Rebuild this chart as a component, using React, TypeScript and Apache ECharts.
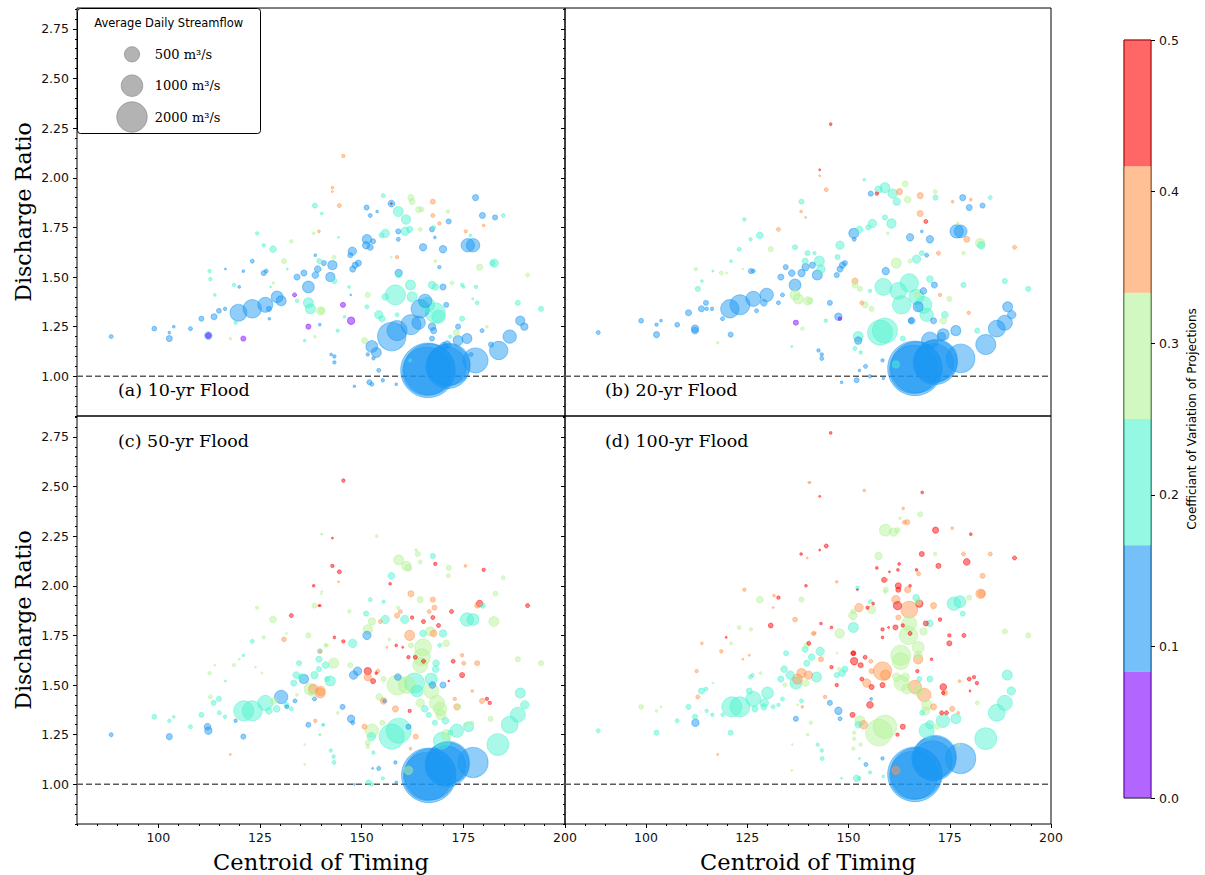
import React, { useEffect, useRef } from "react";
import * as echarts from "echarts";

type Pt = [number, number, number, number]; // [centroid of timing, discharge ratio, avg daily flow m3/s, coefficient of variation]

const panelA: Pt[] = [
  [88.4,1.20,35,.12],[99.0,1.24,47,.12],[102.7,1.19,78,.12],[102.7,1.22,15,.12],[103.8,1.25,15,.12],[107.9,1.24,35,.12],
  [110.6,1.29,54,.12],[112.3,1.205,116,.12],[112.3,1.205,60,.05],[113.7,1.30,78,.12],[114.9,1.33,47,.12],[116.4,1.34,24,.12],
  [117.7,1.19,15,.29],[120.9,1.19,54,.05],[119.0,1.27,24,.21],[119.7,1.32,600,.12],[123.1,1.34,726,.12],[126.3,1.36,486,.12],
  [127.2,1.34,54,.12],[129.2,1.40,294,.12],[130.2,1.38,216,.12],[127.3,1.29,15,.12],[133.5,1.41,35,.05],[134.1,1.38,24,.21],
  [136.9,1.45,294,.12],[134.1,1.50,78,.12],[135.8,1.52,78,.12],[138.6,1.51,96,.12],[139.2,1.54,96,.12],[140.7,1.57,54,.12],
  [139.6,1.58,54,.21],[136.9,1.37,216,.21],[137.4,1.34,216,.21],[139.9,1.33,150,.29],[138.5,1.20,15,.29],[136.9,1.25,54,.05],
  [136.0,1.18,15,.21],[139.7,1.26,15,.12],[138.5,1.86,54,.21],[139.5,1.73,15,.38],[138.2,1.72,15,.29],[124.3,1.72,24,.21],
  [125.9,1.66,24,.21],[128.2,1.64,96,.21],[130.9,1.58,54,.29],[132.7,1.68,24,.29],[123.1,1.58,35,.12],[120.9,1.53,15,.12],
  [116.5,1.54,9,.12],[112.6,1.53,24,.21],[112.8,1.49,24,.21],[113.9,1.41,15,.21],[118.6,1.46,24,.21],[119.9,1.45,15,.12],
  [125.9,1.52,54,.12],[126.5,1.53,35,.12],[128.3,1.47,15,.29],[131.7,1.54,9,.21],[127.6,1.45,6,.21],[138.6,1.61,15,.12],
  [145.5,2.11,24,.38],[142.8,1.95,15,.38],[142.8,1.93,9,.38],[144.5,1.86,35,.38],[140.2,1.82,15,.21],[155.3,1.91,35,.21],
  [157.3,1.87,96,.12],[157.3,1.87,9,.46],[151.2,1.85,54,.12],[152.1,1.81,35,.12],[153.8,1.83,15,.12],[159.0,1.83,216,.21],
  [160.9,1.79,188,.21],[162.1,1.90,78,.29],[162.4,1.88,78,.29],[164.0,1.84,78,.29],[164.7,1.84,54,.29],[167.5,1.88,54,.38],
  [167.5,1.81,35,.38],[169.1,1.77,24,.38],[171.2,1.83,24,.29],[171.4,1.78,54,.12],[178.0,1.90,78,.12],[179.7,1.81,78,.12],
  [180.0,1.76,15,.38],[182.8,1.80,54,.12],[184.8,1.81,35,.21],[175.6,1.73,24,.38],[176.7,1.71,15,.21],[176.1,1.66,384,.12],
  [177.4,1.66,384,.12],[155.8,1.72,150,.21],[154.9,1.71,54,.21],[151.3,1.69,188,.12],[151.1,1.66,116,.12],[152.1,1.65,78,.12],
  [152.8,1.68,54,.12],[159.0,1.73,54,.12],[160.7,1.73,150,.21],[161.8,1.74,78,.21],[159.0,1.69,35,.12],[164.4,1.74,35,.29],
  [167.3,1.74,54,.12],[167.7,1.75,35,.21],[168.0,1.70,15,.12],[165.1,1.65,116,.12],[170.0,1.64,116,.12],[169.1,1.55,24,.12],
  [168.1,1.58,15,.29],[158.7,1.60,24,.38],[157.3,1.60,9,.29],[159.1,1.52,116,.12],[159.1,1.51,54,.21],[147.7,1.63,150,.12],
  [147.2,1.61,54,.12],[149.2,1.57,78,.12],[148.4,1.56,78,.12],[147.8,1.54,78,.12],[142.3,1.50,188,.12],[142.8,1.56,188,.12],
  [143.3,1.48,54,.21],[143.2,1.60,35,.29],[144.3,1.70,9,.21],[146.9,1.45,15,.21],[147.3,1.41,6,.12],[140.2,1.33,78,.29],
  [145.4,1.36,54,.05],[147.4,1.28,116,.05],[145.8,1.30,15,.21],[144.1,1.23,24,.21],[142.5,1.11,15,.12],[143.3,1.10,24,.12],
  [143.3,1.07,24,.12],[148.2,0.95,15,.12],[151.9,0.97,54,.12],[152.5,0.96,35,.12],[155.2,0.98,24,.12],[158.5,0.96,15,.12],
  [154.2,1.03,35,.12],[152.9,1.09,24,.12],[151.5,1.11,24,.12],[152.5,1.15,294,.12],[153.6,1.12,216,.12],[150.7,1.18,78,.29],
  [157.4,1.20,1734,.12],[158.7,1.23,864,.12],[162.1,1.26,864,.12],[164.0,1.27,384,.12],[164.4,1.34,726,.12],[166.1,1.36,486,.21],
  [168.1,1.32,864,.21],[168.9,1.30,384,.21],[165.6,1.38,384,.12],[158.3,1.41,864,.21],[162.0,1.46,216,.21],[162.4,1.40,216,.21],
  [155.8,1.40,96,.21],[151.5,1.41,54,.29],[151.3,1.35,35,.21],[154.2,1.31,150,.21],[155.0,1.29,78,.21],[158.7,1.31,35,.21],
  [167.3,1.46,116,.21],[168.1,1.45,96,.21],[170.0,1.45,78,.12],[170.8,1.36,54,.12],[172.2,1.47,35,.29],[174.7,1.46,24,.21],
  [175.1,1.45,15,.21],[178.1,1.45,24,.21],[178.4,1.37,35,.21],[177.3,1.39,9,.21],[179.0,1.55,78,.29],[182.6,1.57,150,.21],
  [182.2,1.57,54,.21],[188.4,1.37,54,.21],[190.8,1.51,35,.29],[194.1,1.34,54,.21],[189.0,1.28,188,.12],[190.0,1.25,116,.12],
  [186.4,1.20,384,.12],[183.7,1.13,726,.12],[178.0,1.08,1350,.12],
  [166.3,1.03,6400,.12],[166.6,1.035,5600,.12],[166.0,1.025,5000,.12],[171.2,1.05,4200,.12],[171.5,1.06,3800,.12],[170.9,1.05,3300,.12],
  [173.7,1.18,216,.12],[175.9,1.19,216,.12],[173.3,1.22,78,.29],[173.7,1.25,54,.12],[170.2,1.15,150,.12],[171.0,1.16,116,.12],
  [167.3,1.25,116,.12],[167.7,1.23,78,.12],[167.3,1.19,54,.12],[174.7,1.29,54,.21],[179.6,1.23,35,.12],[180.8,1.25,15,.29],
  [181.8,1.16,54,.12],[176.9,1.11,35,.12],[161.9,1.08,15,.21],[171.8,1.20,24,.21],
];

const panelB: Pt[] = [
  [88.2,1.22,35,.12],[98.8,1.28,47,.12],[102.6,1.26,24,.12],[103.7,1.28,15,.12],[102.6,1.21,78,.12],[107.7,1.26,47,.12],
  [110.5,1.32,78,.12],[112.1,1.24,116,.12],[112.1,1.23,96,.12],[113.7,1.34,78,.12],[114.8,1.37,54,.12],[116.3,1.34,24,.12],
  [115.0,1.34,24,.12],[117.7,1.17,15,.29],[120.9,1.21,54,.12],[118.9,1.29,35,.12],[120.7,1.34,726,.12],[123.2,1.36,864,.12],
  [126.5,1.39,486,.12],[127.3,1.33,35,.12],[129.8,1.41,384,.12],[129.1,1.37,96,.12],[133.7,1.41,35,.12],[132.7,1.37,35,.12],
  [136.8,1.46,294,.12],[133.3,1.50,78,.12],[134.5,1.55,54,.12],[136.0,1.52,96,.12],[138.4,1.52,116,.12],[139.4,1.55,116,.12],
  [141.1,1.56,78,.12],[136.8,1.41,216,.29],[137.6,1.39,216,.29],[139.9,1.38,150,.29],[137.0,1.27,54,.05],[138.6,1.24,24,.29],
  [136.0,1.15,9,.21],[138.4,1.88,54,.21],[138.3,1.83,15,.38],[139.4,1.80,9,.38],[136.8,1.65,54,.21],[139.3,1.58,78,.21],
  [139.9,1.62,54,.21],[132.7,1.74,35,.38],[128.1,1.71,96,.21],[130.8,1.64,54,.29],[124.3,1.79,24,.21],[125.8,1.69,24,.21],
  [123.0,1.64,35,.21],[121.0,1.58,15,.21],[125.9,1.53,54,.12],[126.5,1.53,35,.12],[118.6,1.52,35,.29],[119.9,1.52,9,.29],
  [116.5,1.53,9,.21],[113.8,1.48,15,.21],[112.8,1.44,54,.21],[112.3,1.54,24,.29],[123.9,1.54,6,.29],
  [145.6,2.27,15,.46],[142.9,2.04,9,.46],[142.9,2.01,9,.38],[144.5,1.94,35,.38],[153.9,1.99,15,.21],[159.0,1.95,216,.21],
  [157.4,1.94,116,.21],[160.9,1.92,188,.21],[161.9,1.88,116,.21],[155.5,1.92,54,.12],[157.0,1.92,24,.46],[162.6,1.93,78,.38],
  [164.0,1.97,78,.29],[164.6,1.89,96,.29],[167.7,1.91,78,.38],[167.7,1.82,78,.38],[169.1,1.78,35,.46],[168.1,1.73,15,.12],
  [171.4,1.93,35,.29],[171.5,1.90,54,.21],[178.2,1.90,78,.12],[179.8,1.85,78,.12],[180.2,1.89,15,.38],[175.7,1.88,15,.38],
  [183.1,1.86,54,.12],[185.0,1.90,35,.21],[176.7,1.73,384,.12],[177.7,1.73,347,.12],[179.2,1.69,78,.38],[182.5,1.67,188,.29],
  [182.8,1.66,116,.21],[191.0,1.65,35,.38],[177.0,1.77,15,.29],[178.4,1.62,24,.29],[155.9,1.77,150,.21],[154.9,1.75,54,.21],
  [151.3,1.72,216,.12],[152.7,1.74,96,.21],[151.4,1.69,35,.12],[160.6,1.77,188,.21],[159.0,1.80,54,.21],[159.7,1.72,15,.29],
  [165.2,1.70,116,.12],[170.1,1.69,116,.12],[169.3,1.61,35,.12],[172.2,1.62,35,.38],[168.1,1.62,54,.21],[166.8,1.59,150,.21],
  [165.2,1.58,35,.29],[161.8,1.57,216,.29],[159.2,1.53,116,.12],[147.9,1.66,150,.21],[147.3,1.60,54,.21],[149.1,1.57,54,.12],
  [148.5,1.56,78,.12],[147.9,1.54,78,.12],[147.1,1.51,54,.12],[142.3,1.51,216,.12],[142.8,1.58,216,.21],[143.2,1.54,150,.21],
  [141.6,1.62,24,.21],[140.5,1.38,78,.29],[145.4,1.37,54,.12],[147.5,1.30,116,.12],[147.9,1.29,24,.05],[144.4,1.28,24,.21],
  [151.6,1.48,78,.38],[151.6,1.46,78,.29],[152.8,1.44,54,.29],[153.3,1.37,35,.38],[154.1,1.36,78,.29],[155.7,1.34,54,.29],
  [155.3,1.43,24,.21],[158.6,1.45,600,.21],[162.3,1.43,600,.21],[165.0,1.47,726,.21],[163.1,1.36,726,.21],[166.8,1.40,486,.21],
  [168.5,1.36,600,.21],[169.3,1.31,384,.21],[167.2,1.35,216,.12],[168.5,1.43,96,.12],[167.0,1.41,78,.29],[165.6,1.28,96,.12],
  [159.0,1.23,1350,.21],[157.8,1.22,1350,.21],[152.4,1.20,216,.21],[152.4,1.18,116,.12],[151.6,1.14,35,.21],[153.0,1.12,24,.21],
  [163.4,1.19,54,.21],[161.7,1.06,116,.21],[158.4,1.08,24,.12],[154.2,1.05,35,.12],[152.7,1.03,15,.12],[152.0,0.98,54,.12],
  [155.3,1.00,24,.12],[158.6,0.99,15,.12],[148.3,0.97,15,.12],[142.6,1.13,24,.12],[143.4,1.11,24,.12],[143.4,1.09,35,.12],
  [166.4,1.04,6400,.12],[166.7,1.045,5600,.12],[166.1,1.035,5000,.12],[171.4,1.07,4200,.12],[171.7,1.08,3800,.12],[171.1,1.065,3300,.12],
  [170.1,1.18,600,.12],[173.0,1.20,150,.12],[173.4,1.21,294,.12],[176.5,1.23,216,.12],[177.7,1.09,1734,.12],[183.9,1.16,864,.12],
  [186.6,1.24,600,.12],[188.6,1.27,486,.12],[189.3,1.35,216,.12],[190.3,1.31,150,.12],[181.8,1.23,54,.21],[179.7,1.32,24,.38],
  [194.4,1.44,54,.21],[188.6,1.48,54,.21],[178.4,1.46,54,.21],[174.9,1.39,54,.29],[173.8,1.31,96,.21],[173.4,1.28,96,.29],
  [171.0,1.28,78,.12],[171.2,1.46,78,.12],[170.1,1.49,96,.21],[172.6,1.41,24,.38],[165.4,1.28,54,.12],
];

const panelC: Pt[] = [
  [88.4,1.25,35,.12],[99.0,1.34,47,.21],[102.7,1.32,24,.21],[103.8,1.34,15,.21],[102.7,1.24,78,.12],[107.9,1.29,35,.21],
  [110.6,1.35,54,.21],[112.1,1.29,96,.12],[112.3,1.27,116,.12],[113.6,1.41,54,.21],[114.9,1.43,54,.21],[115.0,1.36,35,.21],
  [116.4,1.34,24,.21],[112.8,1.44,35,.29],[112.6,1.56,24,.29],[113.9,1.60,9,.29],[116.5,1.52,9,.21],[117.7,1.15,9,.38],
  [119.0,1.32,24,.12],[120.9,1.24,54,.12],[118.6,1.60,24,.29],[119.9,1.63,9,.29],[120.9,1.65,15,.21],[123.1,1.72,35,.21],
  [123.9,1.59,6,.29],[125.5,1.56,9,.29],[121.0,1.37,864,.21],[123.1,1.37,864,.21],[126.3,1.41,486,.21],[127.2,1.37,96,.21],
  [128.4,1.42,96,.29],[129.1,1.38,96,.21],[130.2,1.44,384,.12],[131.6,1.39,35,.12],[132.7,1.38,35,.21],[125.9,1.74,24,.29],
  [124.3,1.89,24,.29],[128.2,1.83,96,.29],[130.9,1.73,47,.38],[131.5,1.76,9,.29],[132.7,1.85,35,.46],[136.9,1.75,54,.29],
  [138.2,2.00,15,.46],[139.5,1.90,9,.46],[138.4,1.90,54,.29],[140.1,2.26,6,.29],[140.0,1.96,6,.29],[134.6,1.61,54,.21],
  [133.9,1.55,96,.21],[133.3,1.51,78,.21],[135.8,1.53,188,.12],[135.2,1.54,96,.21],[138.4,1.55,116,.21],[139.7,1.67,54,.21],
  [139.5,1.63,78,.21],[139.5,1.58,54,.21],[141.1,1.60,96,.21],[137.3,1.48,294,.29],[138.1,1.48,188,.38],[139.9,1.47,188,.38],
  [137.8,1.46,96,.29],[138.4,1.43,35,.12],[134.1,1.45,15,.29],[133.6,1.42,35,.12],[131.5,1.40,54,.21],[136.9,1.30,54,.12],
  [138.6,1.32,24,.38],[140.5,1.30,15,.21],[139.7,1.25,9,.21],[136.0,1.20,6,.29],[136.0,1.10,9,.29],[141.1,1.70,24,.29],
  [141.5,1.53,54,.21],
  [145.5,2.53,24,.46],[142.8,2.24,9,.46],[140.2,2.26,6,.29],[153.7,2.25,15,.29],[142.8,2.10,24,.46],[144.5,2.07,35,.46],
  [144.3,2.02,9,.38],[140.2,1.97,9,.29],[139.8,1.90,9,.46],[157.0,2.01,15,.46],[159.1,2.13,216,.29],[161.0,2.10,188,.29],
  [161.5,2.09,96,.29],[163.4,2.18,15,.29],[163.8,2.16,54,.29],[164.4,2.12,35,.29],[167.5,2.15,54,.21],[168.1,2.11,24,.46],
  [171.4,2.09,54,.29],[171.3,2.05,35,.29],[157.3,2.05,96,.21],[175.5,2.10,15,.38],[180.0,2.08,24,.46],[184.8,2.04,35,.29],
  [182.9,1.96,54,.29],[179.0,1.91,96,.46],[178.4,1.90,54,.38],[179.8,1.90,54,.21],[175.9,1.83,384,.21],[177.4,1.83,294,.21],
  [182.5,1.82,216,.29],[190.8,1.90,35,.46],[172.1,1.87,35,.46],[152.1,1.93,35,.21],[155.4,1.92,24,.21],[151.1,1.86,54,.21],
  [152.5,1.82,116,.29],[151.5,1.78,188,.29],[151.3,1.75,150,.12],[154.6,1.82,35,.38],[155.8,1.83,150,.21],[147.0,1.87,24,.29],
  [158.9,1.89,24,.29],[159.5,1.87,35,.38],[158.7,1.85,54,.38],[160.6,1.83,150,.21],[162.1,1.96,78,.38],[164.4,1.93,78,.29],
  [167.5,1.93,54,.38],[167.9,1.89,54,.38],[166.6,1.87,35,.38],[167.5,1.84,35,.46],[168.9,1.80,35,.46],[161.8,1.75,216,.38],
  [165.2,1.82,35,.46],[162.4,1.84,24,.46],[165.1,1.76,96,.21],[166.9,1.77,188,.29],[167.7,1.76,96,.38],[170.0,1.76,116,.21],
  [170.8,1.71,96,.29],[169.2,1.70,35,.21],[165.1,1.69,600,.29],[164.8,1.64,600,.29],[164.4,1.60,486,.29],[165.2,1.62,35,.46],
  [163.2,1.64,35,.46],[161.5,1.64,24,.46],[162.1,1.70,54,.29],[158.5,1.70,15,.46],[160.1,1.69,9,.46],[156.2,1.69,9,.38],
  [156.8,1.73,15,.29],[147.8,1.71,150,.21],[145.5,1.72,24,.46],[143.3,1.74,15,.46],[147.2,1.60,54,.29],[168.3,1.61,96,.21],
  [168.2,1.58,96,.21],[172.5,1.62,35,.46],[175.1,1.61,35,.38],[174.7,1.65,24,.38],[178.4,1.61,54,.38],[174.7,1.55,54,.46],
  [151.5,1.57,116,.46],[151.5,1.54,116,.38],[152.8,1.52,54,.46],[154.0,1.57,35,.38],[153.6,1.56,15,.46],[149.0,1.57,150,.12],
  [148.0,1.55,150,.12],[142.3,1.52,216,.21],[143.1,1.61,216,.29],[139.8,1.46,216,.38],[141.4,1.70,24,.29],[139.8,1.67,24,.38],
  [155.4,1.53,54,.29],[158.9,1.54,96,.12],[158.7,1.50,864,.29],[161.1,1.50,600,.29],[163.0,1.51,864,.21],[163.6,1.47,294,.21],
  [167.1,1.53,294,.21],[167.4,1.50,96,.12],[167.1,1.47,486,.29],[168.5,1.41,486,.29],[169.3,1.38,384,.29],[169.5,1.35,216,.29],
  [170.0,1.50,78,.12],[164.4,1.41,150,.29],[165.5,1.38,96,.21],[166.5,1.35,54,.21],[170.6,1.32,96,.21],[168.0,1.31,54,.21],
  [172.9,1.43,24,.38],[173.4,1.39,78,.38],[173.8,1.39,54,.29],[177.2,1.47,15,.38],[179.6,1.42,54,.38],[180.8,1.43,24,.46],
  [181.5,1.41,24,.46],[181.7,1.33,54,.29],[158.3,1.38,78,.38],[161.8,1.37,24,.46],[154.3,1.44,96,.29],[155.4,1.42,96,.38],
  [155.6,1.42,24,.12],[145.3,1.39,54,.12],[147.4,1.33,116,.12],[147.8,1.31,35,.12],[144.1,1.36,15,.29],[140.6,1.30,15,.21],
  [139.8,1.25,6,.29],[150.7,1.29,54,.38],[152.5,1.27,384,.29],[152.4,1.24,150,.21],[151.5,1.21,54,.29],[151.5,1.19,35,.29],
  [152.9,1.16,24,.21],[155.1,1.31,54,.29],[157.4,1.24,1350,.21],[159.1,1.27,1350,.21],[161.5,1.29,54,.12],[163.3,1.24,54,.38],
  [162.0,1.18,15,.38],[173.4,1.27,384,.21],[176.3,1.29,216,.21],[175.5,1.30,24,.29],[177.1,1.31,24,.29],[169.7,1.22,600,.21],
  [170.8,1.25,216,.29],[171.8,1.26,54,.21],[142.4,1.17,24,.21],[143.1,1.14,24,.21],[143.2,1.11,35,.21],[152.7,1.08,9,.12],
  [154.2,1.08,35,.12],[155.2,1.03,24,.21],[158.3,1.11,24,.12],[158.5,1.01,15,.12],[151.7,1.01,54,.21],[152.5,1.00,24,.21],
  [148.2,1.00,9,.12],
  [166.5,1.045,6400,.12],[166.8,1.05,5600,.12],[166.2,1.04,5000,.12],[171.0,1.10,4200,.12],[171.3,1.11,3800,.12],[170.7,1.095,3300,.12],
  [177.4,1.11,1944,.12],[161.5,1.07,150,.29],[183.5,1.20,1014,.21],[186.4,1.30,600,.21],[188.4,1.35,486,.21],[190.1,1.40,150,.21],
  [189.0,1.46,216,.21],[188.4,1.63,54,.29],[194.1,1.61,54,.29],[171.4,1.52,6,.46],
];

const panelD: Pt[] = [
  [88.2,1.27,35,.21],[98.8,1.39,47,.29],[102.6,1.37,15,.29],[103.7,1.39,9,.29],[102.6,1.26,54,.21],[107.7,1.32,35,.21],
  [110.5,1.39,54,.21],[112.2,1.31,116,.12],[112.1,1.34,54,.21],[113.7,1.47,78,.21],[114.8,1.48,35,.21],[115.0,1.37,24,.21],
  [116.4,1.35,24,.21],[112.8,1.44,35,.38],[112.5,1.57,24,.38],[113.8,1.71,15,.38],[116.5,1.51,6,.29],[117.7,1.15,9,.38],
  [118.9,1.35,24,.21],[120.9,1.26,54,.21],[118.6,1.67,24,.38],[119.8,1.74,9,.46],[121.0,1.71,15,.29],[123.0,1.79,35,.29],
  [123.9,1.63,6,.38],[125.5,1.65,9,.38],[125.9,1.78,24,.29],[124.3,1.98,24,.38],[128.1,1.93,96,.29],[131.6,1.95,15,.38],
  [132.7,1.94,24,.46],[131.4,1.89,9,.38],[130.8,1.80,47,.46],[136.8,1.83,47,.38],[138.4,1.93,54,.29],[138.3,2.16,15,.46],
  [139.8,2.14,9,.38],[139.5,2.00,15,.46],[140.2,2.52,9,.38],[141.3,1.76,35,.38],[140.2,1.71,35,.46],[139.7,1.70,54,.29],
  [134.6,1.66,54,.21],[139.3,1.68,78,.21],[140.9,1.64,96,.21],[139.7,1.61,78,.21],[121.2,1.39,864,.21],[123.2,1.39,864,.21],
  [126.5,1.43,486,.21],[125.5,1.47,78,.21],[130.0,1.46,294,.21],[129.2,1.41,150,.21],[126.9,1.38,78,.21],[129.1,1.39,78,.21],
  [131.4,1.39,35,.21],[132.7,1.40,24,.21],[133.7,1.43,35,.21],[125.8,1.54,35,.21],[126.3,1.55,24,.21],[128.3,1.56,15,.29],
  [134.1,1.58,96,.21],[133.3,1.53,78,.21],[135.6,1.55,150,.21],[137.0,1.51,294,.21],[137.4,1.53,216,.38],[138.4,1.56,188,.38],
  [140.1,1.55,150,.38],[139.4,1.51,96,.29],[134.3,1.50,35,.29],[138.4,1.42,35,.21],[138.6,1.39,15,.38],[137.0,1.33,54,.12],
  [140.7,1.31,24,.29],[137.4,1.40,6,.29],[139.9,1.25,15,.29],[136.1,1.20,6,.29],[136.0,1.07,9,.29],
  [145.6,2.77,15,.46],[142.9,2.45,9,.46],[140.5,2.52,9,.38],[153.9,2.48,15,.38],[168.2,2.47,15,.46],[163.5,2.39,15,.38],
  [164.5,2.32,54,.38],[163.8,2.32,35,.38],[162.7,2.34,15,.29],[159.1,2.28,294,.29],[161.1,2.27,150,.29],[162.1,2.28,54,.29],
  [167.7,2.36,54,.29],[171.5,2.28,78,.46],[175.6,2.29,15,.38],[180.2,2.26,15,.46],[144.5,2.20,35,.46],[142.9,2.18,9,.46],
  [157.4,2.15,116,.29],[168.1,2.16,54,.46],[171.4,2.16,24,.29],[172.2,2.10,54,.46],[178.4,2.16,35,.38],[179.2,2.12,96,.46],
  [185.0,2.16,35,.38],[191.0,2.14,35,.46],[183.1,2.05,54,.38],[182.6,1.96,188,.38],[182.9,1.96,116,.38],[147.1,2.02,15,.38],
  [157.0,2.09,15,.46],[160.1,2.07,9,.46],[158.8,2.03,54,.46],[159.4,2.03,15,.38],[162.5,2.11,15,.46],[162.2,2.08,15,.46],
  [162.3,2.00,78,.46],[162.3,1.98,54,.46],[165.2,2.00,15,.46],[164.6,1.98,78,.38],[159.2,1.98,54,.29],[159.1,1.97,24,.29],
  [166.8,2.08,15,.46],[167.3,2.06,35,.38],[152.2,1.99,24,.21],[152.2,1.98,9,.46],[155.4,1.92,35,.21],[156.1,1.91,15,.46],
  [155.7,1.88,150,.29],[154.7,1.89,24,.46],[152.6,1.89,150,.38],[151.2,1.87,54,.29],[151.1,1.85,150,.29],[151.2,1.79,216,.21],
  [147.8,1.76,188,.29],[143.2,1.81,15,.46],[145.8,1.79,15,.46],[141.6,1.76,24,.38],[161.7,1.93,150,.38],[162.1,1.90,150,.46],
  [165.0,1.88,600,.38],[166.7,1.94,96,.21],[167.2,1.92,96,.29],[167.5,1.91,116,.46],[165.0,1.81,486,.29],[164.8,1.75,726,.29],
  [168.5,1.77,116,.29],[169.1,1.81,54,.46],[170.1,1.81,96,.21],[171.0,1.90,78,.38],[172.6,1.83,24,.46],[162.3,1.84,54,.38],
  [159.9,1.79,9,.46],[158.4,1.78,24,.46],[161.6,1.79,54,.46],[158.4,1.74,15,.46],[163.4,1.80,24,.46],[165.2,1.76,35,.46],
  [174.9,1.75,24,.46],[174.9,1.71,54,.46],[178.5,1.75,35,.46],[188.6,1.77,54,.29],[194.4,1.75,54,.29],[176.0,1.91,384,.21],
  [177.5,1.92,294,.21],[178.2,1.86,54,.21],[179.8,1.94,54,.29],[162.9,1.65,864,.29],[162.9,1.62,600,.29],[167.2,1.69,294,.29],
  [167.2,1.65,150,.29],[167.2,1.63,188,.38],[170.5,1.63,15,.46],[167.0,1.57,24,.46],[164.0,1.54,150,.29],[163.1,1.51,486,.29],
  [161.9,1.54,150,.29],[158.4,1.57,726,.38],[159.1,1.55,216,.38],[155.7,1.57,54,.38],[154.5,1.51,150,.38],[153.3,1.53,35,.46],
  [155.7,1.49,54,.46],[158.4,1.50,54,.46],[151.2,1.66,54,.46],[151.4,1.62,116,.46],[153.0,1.60,54,.46],[154.1,1.64,35,.46],
  [155.5,1.62,35,.38],[151.2,1.66,35,.46],[147.7,1.58,24,.29],[148.4,1.56,96,.21],[149.1,1.58,78,.21],[147.1,1.55,54,.21],
  [142.1,1.54,216,.21],[143.0,1.67,150,.21],[143.2,1.63,54,.38],[147.1,1.66,6,.29],[145.8,1.59,24,.46],[147.1,1.50,24,.46],
  [144.2,1.44,24,.38],[145.4,1.41,54,.12],[147.5,1.37,116,.12],[147.9,1.33,35,.12],[155.6,1.43,15,.12],[155.3,1.40,96,.46],
  [166.4,1.49,384,.38],[167.2,1.47,216,.29],[168.7,1.45,384,.38],[169.3,1.40,216,.29],[169.1,1.37,150,.29],[170.1,1.53,78,.21],
  [167.5,1.53,54,.21],[164.4,1.48,216,.29],[173.4,1.49,96,.46],[173.8,1.46,54,.38],[173.4,1.46,24,.46],[177.4,1.52,15,.38],
  [179.8,1.53,35,.46],[181.0,1.54,24,.46],[181.7,1.51,24,.46],[180.0,1.47,9,.46],[181.8,1.41,35,.29],[173.0,1.36,35,.46],
  [174.2,1.36,35,.46],[175.6,1.38,54,.38],[177.1,1.36,15,.38],[171.0,1.39,78,.38],[168.2,1.36,54,.21],[173.3,1.32,384,.21],
  [176.5,1.33,216,.21],[170.1,1.30,150,.21],[169.3,1.27,486,.21],[171.9,1.29,54,.29],[163.4,1.29,54,.46],[162.1,1.25,24,.46],
  [157.5,1.26,1536,.29],[159.0,1.29,1176,.29],[152.8,1.32,216,.29],[153.7,1.30,150,.38],[152.4,1.30,96,.21],[151.0,1.35,54,.46],
  [151.4,1.26,24,.29],[151.4,1.23,24,.29],[153.0,1.20,24,.29],[142.4,1.20,24,.21],[143.4,1.17,24,.21],[143.5,1.13,35,.21],
  [152.7,1.13,9,.21],[154.3,1.10,35,.12],[155.3,1.06,24,.21],[158.4,1.13,24,.12],[158.6,1.04,15,.21],[152.0,1.03,96,.21],
  [152.6,1.03,35,.21],[148.3,1.03,9,.21],
  [166.4,1.05,6400,.12],[166.7,1.055,5600,.12],[166.1,1.045,5000,.12],[171.1,1.13,4200,.12],[171.4,1.14,3800,.12],[170.8,1.12,3300,.12],
  [177.7,1.13,1944,.12],[161.7,1.07,150,.38],[183.9,1.23,1014,.21],[186.6,1.36,600,.21],[188.6,1.41,486,.21],[190.2,1.47,150,.21],
  [189.2,1.55,216,.21],[177.1,1.20,24,.29],[151.2,1.18,24,.29],
];

const panels: Pt[][] = [panelA, panelB, panelC, panelD];
const panelTitles = ["(a) 10-yr Flood", "(b) 20-yr Flood", "(c) 50-yr Flood", "(d) 100-yr Flood"];

const xRange = [80, 200];
const yRange = [0.8, 2.855];
const xMajorTicks = [100, 125, 150, 175, 200];
const yMajorTicks = [1.0, 1.25, 1.5, 1.75, 2.0, 2.25, 2.5, 2.75];
const xMinorStep = 5;
const yMinorStep = 0.05;

const cvBounds = [0, 1 / 12, 2 / 12, 3 / 12, 4 / 12, 5 / 12, 0.5];
const cvRgb = ["127,0,255", "25,150,243", "77,243,206", "179,243,150", "255,150,79", "255,0,0"];
const cbTicks = [0, 0.1, 0.2, 0.3, 0.4, 0.5];
const legendFlows = [500, 1000, 2000];

const ALPHA = 0.6;
const sizeOf = (flow: number) => 0.682 * Math.sqrt(flow);
const binOf = (cv: number) => {
  for (let k = 0; k < 6; k++) if (cv < cvBounds[k + 1]) return k;
  return 5;
};
const rgba = (k: number) => `rgba(${cvRgb[k]},${ALPHA})`;

function range(a: number, b: number, step: number) {
  const out: number[] = [];
  for (let v = a; v <= b + 1e-9; v += step) out.push(Math.round(v * 1000) / 1000);
  return out;
}

export default function App() {
  const ref = useRef<HTMLDivElement>(null);
  useEffect(() => {
    if (!ref.current) return;
    const chart = echarts.init(ref.current, undefined, { renderer: "svg" });
    const xMinor = range(xRange[0], xRange[1], xMinorStep);
    const yMinor = range(0.8, 2.85, yMinorStep);

    const grids = [
      { left: 77, top: 8, width: 488, height: 408 },
      { left: 565, top: 8, width: 486, height: 408 },
      { left: 77, top: 416, width: 488, height: 408 },
      { left: 565, top: 416, width: 486, height: 408 },
      { left: 1124, top: 40, width: 27, height: 758 },
    ].map((g) => ({ ...g, show: true, borderColor: "#000", borderWidth: 1, backgroundColor: "transparent", containLabel: false }));

    const labelStyle = { fontFamily: "DejaVu Sans", fontSize: 12.5, color: "#111" };
    const xAxes: any[] = [];
    const yAxes: any[] = [];
    for (let i = 0; i < 4; i++) {
      const bottom = i >= 2;
      const left = i % 2 === 0;
      xAxes.push({
        gridIndex: i, type: "value", min: xRange[0], max: xRange[1], position: "bottom",
        axisLine: { show: false }, splitLine: { show: false },
        axisTick: { show: bottom, customValues: xMajorTicks, length: 4, lineStyle: { color: "#000" } },
        axisLabel: { show: bottom, customValues: xMajorTicks, margin: 7, ...labelStyle },
        name: bottom ? "Centroid of Timing" : "", nameLocation: "middle", nameGap: 26,
        nameTextStyle: { fontFamily: "DejaVu Serif", fontSize: 22.5, color: "#000" },
      });
      xAxes.push({
        gridIndex: i, type: "value", min: xRange[0], max: xRange[1], position: "bottom",
        axisLine: { show: false }, splitLine: { show: false }, axisLabel: { show: false },
        axisTick: { show: bottom, customValues: xMinor, length: 2, lineStyle: { color: "#000" } },
      });
      yAxes.push({
        gridIndex: i, type: "value", min: yRange[0], max: yRange[1], position: "left",
        axisLine: { show: false }, splitLine: { show: false },
        axisTick: { show: true, customValues: yMajorTicks, length: 4, lineStyle: { color: "#000" } },
        axisLabel: { show: left, customValues: yMajorTicks, margin: 8, formatter: (v: number) => v.toFixed(2), ...labelStyle },
        name: left ? "Discharge Ratio" : "", nameLocation: "middle", nameGap: 43,
        nameTextStyle: { fontFamily: "DejaVu Serif", fontSize: 22, color: "#000" },
      });
      yAxes.push({
        gridIndex: i, type: "value", min: yRange[0], max: yRange[1], position: "left",
        axisLine: { show: false }, splitLine: { show: false }, axisLabel: { show: false },
        axisTick: { show: true, customValues: yMinor, length: 2, lineStyle: { color: "#000" } },
      });
    }
    // colorbar axes
    xAxes.push({ gridIndex: 4, type: "category", data: ["cv"], show: false });
    yAxes.push({
      gridIndex: 4, type: "value", min: 0, max: 0.5, position: "right",
      axisLine: { show: false }, splitLine: { show: false },
      axisTick: { show: true, customValues: cbTicks, length: 4, lineStyle: { color: "#000" } },
      axisLabel: { show: true, customValues: cbTicks, margin: 8, formatter: (v: number) => v.toFixed(1), ...labelStyle },
      name: "Coefficiant of Variation of Projections", nameLocation: "middle", nameRotate: 90, nameGap: 35,
      nameTextStyle: { fontFamily: "DejaVu Sans", fontSize: 12, color: "#000" },
    });

    const series: any[] = [];
    panels.forEach((pts, i) => {
      series.push({
        type: "line", xAxisIndex: 2 * i, yAxisIndex: 2 * i, data: [[xRange[0], 1], [xRange[1], 1]],
        symbol: "none", silent: true, z: 1,
        lineStyle: { color: "#5a5a5a", width: 1.5, type: [6, 3] },
      });
      const sorted = [...pts].sort((a, b) => b[2] - a[2]);
      series.push({
        type: "scatter", xAxisIndex: 2 * i, yAxisIndex: 2 * i, z: 3, silent: true,
        symbolSize: (v: number[]) => sizeOf(v[2]),
        data: sorted.map((p) => {
          const c = rgba(binOf(p[3]));
          return { value: p, itemStyle: { color: c, borderColor: c, borderWidth: 1 } };
        }),
      });
    });
    for (let k = 0; k < 6; k++) {
      series.push({
        type: "bar", xAxisIndex: 8, yAxisIndex: 8, stack: "cb", barWidth: "100%", silent: true,
        data: [cvBounds[k + 1] - cvBounds[k]],
        itemStyle: { color: rgba(k) },
      });
    }

    const legendY = [54.3, 85.7, 117];
    const graphic: any[] = [
      ...panelTitles.map((t, i) => ({
        type: "text", x: i % 2 === 0 ? 118 : 605, y: i < 2 ? 390 : 441, z: 50,
        style: { text: t, fontFamily: "DejaVu Serif", fontSize: 17.5, fill: "#000", align: "left", verticalAlign: "middle" },
      })),
      {
        type: "rect", z: 100, shape: { x: 77.5, y: 8.5, width: 183, height: 125, r: 3 },
        style: { fill: "#fff", stroke: "#000", lineWidth: 1 },
      },
      {
        type: "text", z: 101, x: 168.7, y: 22.7,
        style: { text: "Average Daily Streamflow", fontFamily: "DejaVu Sans", fontSize: 11.5, fill: "#000", align: "center", verticalAlign: "middle" },
      },
      ...legendFlows.map((f, k) => ({
        type: "circle", z: 101, shape: { cx: 132, cy: legendY[k], r: sizeOf(f) / 2 },
        style: { fill: "rgba(128,128,128,0.6)", stroke: "rgba(128,128,128,0.6)", lineWidth: 1 },
      })),
      ...legendFlows.map((f, k) => ({
        type: "text", z: 101, x: 154.7, y: legendY[k],
        style: { text: `${f} m³/s`, fontFamily: "DejaVu Serif", fontSize: 13, fill: "#000", align: "left", verticalAlign: "middle" },
      })),
    ];

    chart.setOption({
      animation: false,
      backgroundColor: "#fff",
      grid: grids,
      xAxis: xAxes,
      yAxis: yAxes,
      series,
      graphic,
    });
    return () => chart.dispose();
  }, []);
  return <div ref={ref} style={{ position: "absolute", left: 0, top: 0, width: 1205, height: 875 }} />;
}
